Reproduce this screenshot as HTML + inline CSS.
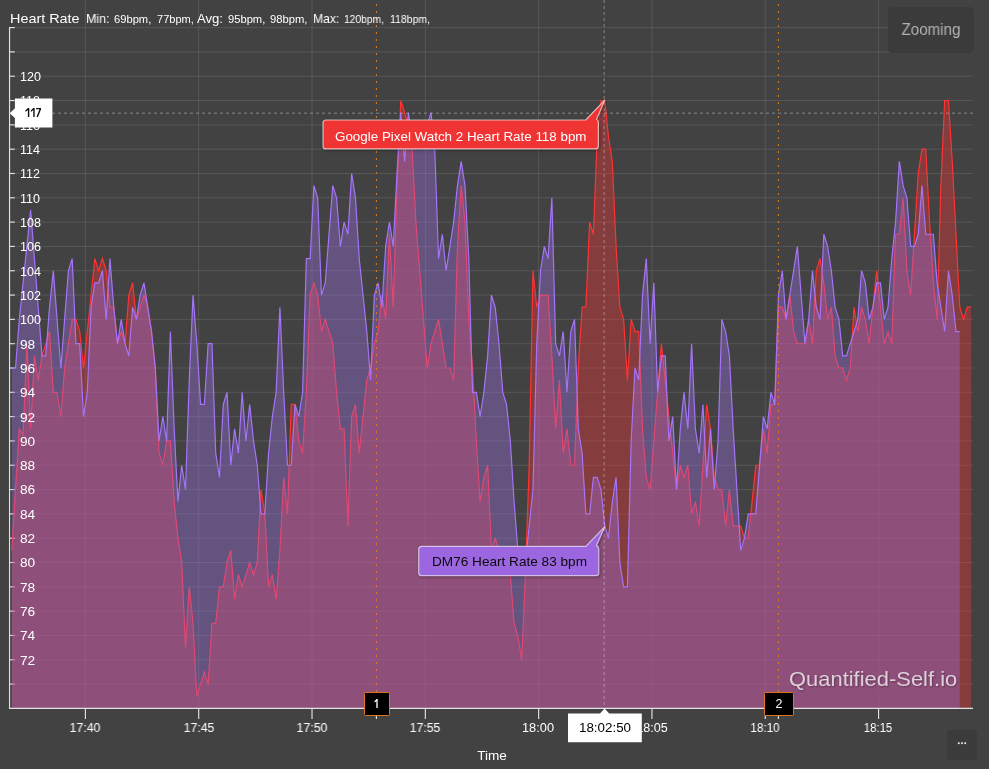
<!DOCTYPE html>
<html><head><meta charset="utf-8"><title>Heart Rate</title>
<style>
html,body{margin:0;padding:0;}
body{width:989px;height:769px;background:#424242;overflow:hidden;position:relative;font-family:"Liberation Sans",sans-serif;color:#fff;}
.tx{position:absolute;height:20px;line-height:20px;white-space:nowrap;will-change:transform;}
.btn{position:absolute;background:rgba(0,0,0,0.10);border-radius:5px;}
.mk{position:absolute;box-sizing:border-box;top:692.1px;height:23.6px;background:#000;border:1.3px solid #de741c;border-radius:1.2px;}
</style></head><body>
<svg width="989" height="769" viewBox="0 0 989 769" style="position:absolute;left:0;top:0"><defs><clipPath id="pc"><rect x="10.0" y="26.6" width="963.0" height="681.8"/></clipPath></defs><line x1="10.0" x2="973.0" y1="684.09" y2="684.09" stroke="#ffffff" stroke-opacity="0.11" stroke-width="1"/><line x1="10.0" x2="973.0" y1="659.77" y2="659.77" stroke="#ffffff" stroke-opacity="0.11" stroke-width="1"/><line x1="10.0" x2="973.0" y1="635.46" y2="635.46" stroke="#ffffff" stroke-opacity="0.11" stroke-width="1"/><line x1="10.0" x2="973.0" y1="611.14" y2="611.14" stroke="#ffffff" stroke-opacity="0.11" stroke-width="1"/><line x1="10.0" x2="973.0" y1="586.83" y2="586.83" stroke="#ffffff" stroke-opacity="0.11" stroke-width="1"/><line x1="10.0" x2="973.0" y1="562.51" y2="562.51" stroke="#ffffff" stroke-opacity="0.11" stroke-width="1"/><line x1="10.0" x2="973.0" y1="538.20" y2="538.20" stroke="#ffffff" stroke-opacity="0.11" stroke-width="1"/><line x1="10.0" x2="973.0" y1="513.89" y2="513.89" stroke="#ffffff" stroke-opacity="0.11" stroke-width="1"/><line x1="10.0" x2="973.0" y1="489.57" y2="489.57" stroke="#ffffff" stroke-opacity="0.11" stroke-width="1"/><line x1="10.0" x2="973.0" y1="465.26" y2="465.26" stroke="#ffffff" stroke-opacity="0.11" stroke-width="1"/><line x1="10.0" x2="973.0" y1="440.94" y2="440.94" stroke="#ffffff" stroke-opacity="0.11" stroke-width="1"/><line x1="10.0" x2="973.0" y1="416.63" y2="416.63" stroke="#ffffff" stroke-opacity="0.11" stroke-width="1"/><line x1="10.0" x2="973.0" y1="392.31" y2="392.31" stroke="#ffffff" stroke-opacity="0.11" stroke-width="1"/><line x1="10.0" x2="973.0" y1="368.00" y2="368.00" stroke="#ffffff" stroke-opacity="0.11" stroke-width="1"/><line x1="10.0" x2="973.0" y1="343.69" y2="343.69" stroke="#ffffff" stroke-opacity="0.11" stroke-width="1"/><line x1="10.0" x2="973.0" y1="319.37" y2="319.37" stroke="#ffffff" stroke-opacity="0.11" stroke-width="1"/><line x1="10.0" x2="973.0" y1="295.06" y2="295.06" stroke="#ffffff" stroke-opacity="0.11" stroke-width="1"/><line x1="10.0" x2="973.0" y1="270.74" y2="270.74" stroke="#ffffff" stroke-opacity="0.11" stroke-width="1"/><line x1="10.0" x2="973.0" y1="246.43" y2="246.43" stroke="#ffffff" stroke-opacity="0.11" stroke-width="1"/><line x1="10.0" x2="973.0" y1="222.11" y2="222.11" stroke="#ffffff" stroke-opacity="0.11" stroke-width="1"/><line x1="10.0" x2="973.0" y1="197.80" y2="197.80" stroke="#ffffff" stroke-opacity="0.11" stroke-width="1"/><line x1="10.0" x2="973.0" y1="173.49" y2="173.49" stroke="#ffffff" stroke-opacity="0.11" stroke-width="1"/><line x1="10.0" x2="973.0" y1="149.17" y2="149.17" stroke="#ffffff" stroke-opacity="0.11" stroke-width="1"/><line x1="10.0" x2="973.0" y1="124.86" y2="124.86" stroke="#ffffff" stroke-opacity="0.11" stroke-width="1"/><line x1="10.0" x2="973.0" y1="100.54" y2="100.54" stroke="#ffffff" stroke-opacity="0.11" stroke-width="1"/><line x1="10.0" x2="973.0" y1="76.23" y2="76.23" stroke="#ffffff" stroke-opacity="0.11" stroke-width="1"/><line x1="10.0" x2="973.0" y1="51.91" y2="51.91" stroke="#ffffff" stroke-opacity="0.11" stroke-width="1"/><line x1="10.0" x2="973.0" y1="27.60" y2="27.60" stroke="#ffffff" stroke-opacity="0.11" stroke-width="1"/><line x1="85.40" x2="85.40" y1="0" y2="708.4" stroke="#ffffff" stroke-opacity="0.11" stroke-width="1"/><line x1="198.71" x2="198.71" y1="0" y2="708.4" stroke="#ffffff" stroke-opacity="0.11" stroke-width="1"/><line x1="312.02" x2="312.02" y1="0" y2="708.4" stroke="#ffffff" stroke-opacity="0.11" stroke-width="1"/><line x1="425.33" x2="425.33" y1="0" y2="708.4" stroke="#ffffff" stroke-opacity="0.11" stroke-width="1"/><line x1="538.64" x2="538.64" y1="0" y2="708.4" stroke="#ffffff" stroke-opacity="0.11" stroke-width="1"/><line x1="651.95" x2="651.95" y1="0" y2="708.4" stroke="#ffffff" stroke-opacity="0.11" stroke-width="1"/><line x1="765.26" x2="765.26" y1="0" y2="708.4" stroke="#ffffff" stroke-opacity="0.11" stroke-width="1"/><line x1="878.57" x2="878.57" y1="0" y2="708.4" stroke="#ffffff" stroke-opacity="0.11" stroke-width="1"/><line x1="9.6" x2="14.8" y1="684.09" y2="684.09" stroke="#e2e2e2" stroke-width="1.15"/><line x1="9.6" x2="14.8" y1="659.77" y2="659.77" stroke="#e2e2e2" stroke-width="1.15"/><line x1="9.6" x2="14.8" y1="635.46" y2="635.46" stroke="#e2e2e2" stroke-width="1.15"/><line x1="9.6" x2="14.8" y1="611.14" y2="611.14" stroke="#e2e2e2" stroke-width="1.15"/><line x1="9.6" x2="14.8" y1="586.83" y2="586.83" stroke="#e2e2e2" stroke-width="1.15"/><line x1="9.6" x2="14.8" y1="562.51" y2="562.51" stroke="#e2e2e2" stroke-width="1.15"/><line x1="9.6" x2="14.8" y1="538.20" y2="538.20" stroke="#e2e2e2" stroke-width="1.15"/><line x1="9.6" x2="14.8" y1="513.89" y2="513.89" stroke="#e2e2e2" stroke-width="1.15"/><line x1="9.6" x2="14.8" y1="489.57" y2="489.57" stroke="#e2e2e2" stroke-width="1.15"/><line x1="9.6" x2="14.8" y1="465.26" y2="465.26" stroke="#e2e2e2" stroke-width="1.15"/><line x1="9.6" x2="14.8" y1="440.94" y2="440.94" stroke="#e2e2e2" stroke-width="1.15"/><line x1="9.6" x2="14.8" y1="416.63" y2="416.63" stroke="#e2e2e2" stroke-width="1.15"/><line x1="9.6" x2="14.8" y1="392.31" y2="392.31" stroke="#e2e2e2" stroke-width="1.15"/><line x1="9.6" x2="14.8" y1="368.00" y2="368.00" stroke="#e2e2e2" stroke-width="1.15"/><line x1="9.6" x2="14.8" y1="343.69" y2="343.69" stroke="#e2e2e2" stroke-width="1.15"/><line x1="9.6" x2="14.8" y1="319.37" y2="319.37" stroke="#e2e2e2" stroke-width="1.15"/><line x1="9.6" x2="14.8" y1="295.06" y2="295.06" stroke="#e2e2e2" stroke-width="1.15"/><line x1="9.6" x2="14.8" y1="270.74" y2="270.74" stroke="#e2e2e2" stroke-width="1.15"/><line x1="9.6" x2="14.8" y1="246.43" y2="246.43" stroke="#e2e2e2" stroke-width="1.15"/><line x1="9.6" x2="14.8" y1="222.11" y2="222.11" stroke="#e2e2e2" stroke-width="1.15"/><line x1="9.6" x2="14.8" y1="197.80" y2="197.80" stroke="#e2e2e2" stroke-width="1.15"/><line x1="9.6" x2="14.8" y1="173.49" y2="173.49" stroke="#e2e2e2" stroke-width="1.15"/><line x1="9.6" x2="14.8" y1="149.17" y2="149.17" stroke="#e2e2e2" stroke-width="1.15"/><line x1="9.6" x2="14.8" y1="124.86" y2="124.86" stroke="#e2e2e2" stroke-width="1.15"/><line x1="9.6" x2="14.8" y1="100.54" y2="100.54" stroke="#e2e2e2" stroke-width="1.15"/><line x1="9.6" x2="14.8" y1="76.23" y2="76.23" stroke="#e2e2e2" stroke-width="1.15"/><line x1="9.6" x2="14.8" y1="51.91" y2="51.91" stroke="#e2e2e2" stroke-width="1.15"/><line x1="9.6" x2="14.8" y1="27.60" y2="27.60" stroke="#e2e2e2" stroke-width="1.15"/><g clip-path="url(#pc)"><path d="M11.75,550.36 L15.53,489.57 L19.30,428.79 L23.08,434.86 L26.86,343.69 L30.63,428.79 L34.41,355.84 L38.19,380.16 L41.96,355.84 L45.74,343.69 L49.52,331.53 L53.30,392.31 L57.07,392.31 L60.85,416.63 L64.63,368.00 L68.40,343.69 L72.18,319.37 L75.96,319.37 L79.73,331.53 L83.51,368.00 L87.29,331.53 L91.07,295.06 L94.84,258.59 L98.62,270.74 L102.40,258.59 L106.17,270.74 L109.95,307.21 L113.73,307.21 L117.50,343.69 L121.28,331.53 L125.06,343.69 L128.84,295.06 L132.61,282.90 L136.39,319.37 L140.17,307.21 L143.94,295.06 L147.72,307.21 L151.50,331.53 L155.27,368.00 L159.05,453.10 L162.83,465.26 L166.61,440.94 L170.38,440.94 L174.16,501.73 L177.94,538.20 L181.71,562.51 L185.49,647.61 L189.27,586.83 L193.04,623.30 L196.82,696.24 L200.60,684.09 L204.38,671.93 L208.15,684.09 L211.93,623.30 L215.71,623.30 L219.48,586.83 L223.26,586.83 L227.04,562.51 L230.81,550.36 L234.59,598.99 L238.37,574.67 L242.15,586.83 L245.92,574.67 L249.70,562.51 L253.48,574.67 L257.25,562.51 L261.03,489.57 L264.81,513.89 L268.58,586.83 L272.36,574.67 L276.14,598.99 L279.92,550.36 L283.69,477.41 L287.47,513.89 L291.25,404.47 L295.02,404.47 L298.80,440.94 L302.58,453.10 L306.35,392.31 L310.13,295.06 L313.91,282.90 L317.69,295.06 L321.46,331.53 L325.24,319.37 L329.02,331.53 L332.79,343.69 L336.57,392.31 L340.35,428.79 L344.12,428.79 L347.90,526.04 L351.68,416.63 L355.46,404.47 L359.23,453.10 L363.01,416.63 L366.79,380.16 L370.56,368.00 L374.34,343.69 L378.12,331.53 L381.89,295.06 L385.67,319.37 L389.45,234.27 L393.23,307.21 L397.00,185.64 L400.78,100.54 L404.56,112.70 L408.33,124.86 L412.11,149.17 L415.89,222.11 L419.66,270.74 L423.44,319.37 L427.22,368.00 L431.00,343.69 L434.77,331.53 L438.55,319.37 L442.33,343.69 L446.10,368.00 L449.88,368.00 L453.66,380.16 L457.43,246.43 L461.21,185.64 L464.99,222.11 L468.77,319.37 L472.54,368.00 L476.32,440.94 L480.10,501.73 L483.87,477.41 L487.65,465.26 L491.43,550.36 L495.20,538.20 L498.98,550.36 L502.76,562.51 L506.54,562.51 L510.31,574.67 L514.09,623.30 L517.87,635.46 L521.64,659.77 L525.42,574.67 L529.20,465.26 L532.97,270.74 L536.75,307.21 L540.53,295.06 L544.31,295.06 L548.08,295.06 L551.86,355.84 L555.64,428.79 L559.41,380.16 L563.19,453.10 L566.97,428.79 L570.74,465.26 L574.52,465.26 L578.30,368.00 L582.08,307.21 L585.85,307.21 L589.63,222.11 L593.41,234.27 L597.18,137.01 L600.96,100.54 L604.74,100.54 L608.51,137.01 L612.29,161.33 L616.07,246.43 L619.85,307.21 L623.62,319.37 L627.40,380.16 L631.18,319.37 L634.95,331.53 L638.73,331.53 L642.51,428.79 L646.28,477.41 L650.06,489.57 L653.84,440.94 L657.62,392.31 L661.39,343.69 L665.17,380.16 L668.95,416.63 L672.72,453.10 L676.50,489.57 L680.28,465.26 L684.05,477.41 L687.83,465.26 L691.61,513.89 L695.39,501.73 L699.16,526.04 L702.94,465.26 L706.72,404.47 L710.49,428.79 L714.27,477.41 L718.05,489.57 L721.82,489.57 L725.60,526.04 L729.38,489.57 L733.16,526.04 L736.93,526.04 L740.71,526.04 L744.49,538.20 L748.26,538.20 L752.04,501.73 L755.82,465.26 L759.59,465.26 L763.37,428.79 L767.15,453.10 L770.93,404.47 L774.70,404.47 L778.48,307.21 L782.26,307.21 L786.03,319.37 L789.81,295.06 L793.59,331.53 L797.36,343.69 L801.14,343.69 L804.92,343.69 L808.70,319.37 L812.47,343.69 L816.25,270.74 L820.03,258.59 L823.80,282.90 L827.58,319.37 L831.36,307.21 L835.13,355.84 L838.91,368.00 L842.69,368.00 L846.47,380.16 L850.24,368.00 L854.02,307.21 L857.80,331.53 L861.57,307.21 L865.35,319.37 L869.13,343.69 L872.90,307.21 L876.68,270.74 L880.46,307.21 L884.24,343.69 L888.01,331.53 L891.79,343.69 L895.57,234.27 L899.34,234.27 L903.12,197.80 L906.90,270.74 L910.67,295.06 L914.45,234.27 L918.23,173.49 L922.01,149.17 L925.78,149.17 L929.56,222.11 L933.34,282.90 L937.11,319.37 L940.89,185.64 L944.67,100.54 L948.44,100.54 L952.22,161.33 L956.00,234.27 L959.78,307.21 L963.55,319.37 L967.33,307.21 L971.11,307.21 L971.11,708.4 L11.75,708.4 Z" fill="#ff3131" fill-opacity="0.35" stroke="none"/><path d="M11.75,550.36 L15.53,489.57 L19.30,428.79 L23.08,434.86 L26.86,343.69 L30.63,428.79 L34.41,355.84 L38.19,380.16 L41.96,355.84 L45.74,343.69 L49.52,331.53 L53.30,392.31 L57.07,392.31 L60.85,416.63 L64.63,368.00 L68.40,343.69 L72.18,319.37 L75.96,319.37 L79.73,331.53 L83.51,368.00 L87.29,331.53 L91.07,295.06 L94.84,258.59 L98.62,270.74 L102.40,258.59 L106.17,270.74 L109.95,307.21 L113.73,307.21 L117.50,343.69 L121.28,331.53 L125.06,343.69 L128.84,295.06 L132.61,282.90 L136.39,319.37 L140.17,307.21 L143.94,295.06 L147.72,307.21 L151.50,331.53 L155.27,368.00 L159.05,453.10 L162.83,465.26 L166.61,440.94 L170.38,440.94 L174.16,501.73 L177.94,538.20 L181.71,562.51 L185.49,647.61 L189.27,586.83 L193.04,623.30 L196.82,696.24 L200.60,684.09 L204.38,671.93 L208.15,684.09 L211.93,623.30 L215.71,623.30 L219.48,586.83 L223.26,586.83 L227.04,562.51 L230.81,550.36 L234.59,598.99 L238.37,574.67 L242.15,586.83 L245.92,574.67 L249.70,562.51 L253.48,574.67 L257.25,562.51 L261.03,489.57 L264.81,513.89 L268.58,586.83 L272.36,574.67 L276.14,598.99 L279.92,550.36 L283.69,477.41 L287.47,513.89 L291.25,404.47 L295.02,404.47 L298.80,440.94 L302.58,453.10 L306.35,392.31 L310.13,295.06 L313.91,282.90 L317.69,295.06 L321.46,331.53 L325.24,319.37 L329.02,331.53 L332.79,343.69 L336.57,392.31 L340.35,428.79 L344.12,428.79 L347.90,526.04 L351.68,416.63 L355.46,404.47 L359.23,453.10 L363.01,416.63 L366.79,380.16 L370.56,368.00 L374.34,343.69 L378.12,331.53 L381.89,295.06 L385.67,319.37 L389.45,234.27 L393.23,307.21 L397.00,185.64 L400.78,100.54 L404.56,112.70 L408.33,124.86 L412.11,149.17 L415.89,222.11 L419.66,270.74 L423.44,319.37 L427.22,368.00 L431.00,343.69 L434.77,331.53 L438.55,319.37 L442.33,343.69 L446.10,368.00 L449.88,368.00 L453.66,380.16 L457.43,246.43 L461.21,185.64 L464.99,222.11 L468.77,319.37 L472.54,368.00 L476.32,440.94 L480.10,501.73 L483.87,477.41 L487.65,465.26 L491.43,550.36 L495.20,538.20 L498.98,550.36 L502.76,562.51 L506.54,562.51 L510.31,574.67 L514.09,623.30 L517.87,635.46 L521.64,659.77 L525.42,574.67 L529.20,465.26 L532.97,270.74 L536.75,307.21 L540.53,295.06 L544.31,295.06 L548.08,295.06 L551.86,355.84 L555.64,428.79 L559.41,380.16 L563.19,453.10 L566.97,428.79 L570.74,465.26 L574.52,465.26 L578.30,368.00 L582.08,307.21 L585.85,307.21 L589.63,222.11 L593.41,234.27 L597.18,137.01 L600.96,100.54 L604.74,100.54 L608.51,137.01 L612.29,161.33 L616.07,246.43 L619.85,307.21 L623.62,319.37 L627.40,380.16 L631.18,319.37 L634.95,331.53 L638.73,331.53 L642.51,428.79 L646.28,477.41 L650.06,489.57 L653.84,440.94 L657.62,392.31 L661.39,343.69 L665.17,380.16 L668.95,416.63 L672.72,453.10 L676.50,489.57 L680.28,465.26 L684.05,477.41 L687.83,465.26 L691.61,513.89 L695.39,501.73 L699.16,526.04 L702.94,465.26 L706.72,404.47 L710.49,428.79 L714.27,477.41 L718.05,489.57 L721.82,489.57 L725.60,526.04 L729.38,489.57 L733.16,526.04 L736.93,526.04 L740.71,526.04 L744.49,538.20 L748.26,538.20 L752.04,501.73 L755.82,465.26 L759.59,465.26 L763.37,428.79 L767.15,453.10 L770.93,404.47 L774.70,404.47 L778.48,307.21 L782.26,307.21 L786.03,319.37 L789.81,295.06 L793.59,331.53 L797.36,343.69 L801.14,343.69 L804.92,343.69 L808.70,319.37 L812.47,343.69 L816.25,270.74 L820.03,258.59 L823.80,282.90 L827.58,319.37 L831.36,307.21 L835.13,355.84 L838.91,368.00 L842.69,368.00 L846.47,380.16 L850.24,368.00 L854.02,307.21 L857.80,331.53 L861.57,307.21 L865.35,319.37 L869.13,343.69 L872.90,307.21 L876.68,270.74 L880.46,307.21 L884.24,343.69 L888.01,331.53 L891.79,343.69 L895.57,234.27 L899.34,234.27 L903.12,197.80 L906.90,270.74 L910.67,295.06 L914.45,234.27 L918.23,173.49 L922.01,149.17 L925.78,149.17 L929.56,222.11 L933.34,282.90 L937.11,319.37 L940.89,185.64 L944.67,100.54 L948.44,100.54 L952.22,161.33 L956.00,234.27 L959.78,307.21 L963.55,319.37 L967.33,307.21 L971.11,307.21" fill="none" stroke="#ff3333" stroke-width="1.2" stroke-linejoin="miter"/><path d="M11.75,368.00 L15.53,368.00 L19.30,319.37 L23.08,282.90 L26.86,246.43 L30.63,209.96 L34.41,258.59 L38.19,307.21 L41.96,355.84 L45.74,355.84 L49.52,307.21 L53.30,270.74 L57.07,319.37 L60.85,368.00 L64.63,319.37 L68.40,270.74 L72.18,258.59 L75.96,343.69 L79.73,343.69 L83.51,416.63 L87.29,392.31 L91.07,307.21 L94.84,282.90 L98.62,282.90 L102.40,270.74 L106.17,319.37 L109.95,258.59 L113.73,307.21 L117.50,343.69 L121.28,319.37 L125.06,343.69 L128.84,355.84 L132.61,307.21 L136.39,319.37 L140.17,295.06 L143.94,282.90 L147.72,307.21 L151.50,331.53 L155.27,368.00 L159.05,440.94 L162.83,416.63 L166.61,440.94 L170.38,331.53 L174.16,428.79 L177.94,501.73 L181.71,465.26 L185.49,489.57 L189.27,380.16 L193.04,295.06 L196.82,343.69 L200.60,404.47 L204.38,404.47 L208.15,343.69 L211.93,343.69 L215.71,453.10 L219.48,477.41 L223.26,404.47 L227.04,392.31 L230.81,465.26 L234.59,428.79 L238.37,453.10 L242.15,392.31 L245.92,440.94 L249.70,404.47 L253.48,440.94 L257.25,465.26 L261.03,513.89 L264.81,513.89 L268.58,453.10 L272.36,416.63 L276.14,392.31 L279.92,307.21 L283.69,392.31 L287.47,465.26 L291.25,465.26 L295.02,404.47 L298.80,416.63 L302.58,392.31 L306.35,258.59 L310.13,258.59 L313.91,185.64 L317.69,197.80 L321.46,295.06 L325.24,282.90 L329.02,234.27 L332.79,185.64 L336.57,197.80 L340.35,246.43 L344.12,222.11 L347.90,234.27 L351.68,173.49 L355.46,197.80 L359.23,258.59 L363.01,295.06 L366.79,331.53 L370.56,380.16 L374.34,295.06 L378.12,282.90 L381.89,307.21 L385.67,246.43 L389.45,222.11 L393.23,246.43 L397.00,173.49 L400.78,112.70 L404.56,161.33 L408.33,112.70 L412.11,137.01 L415.89,137.01 L419.66,137.01 L423.44,137.01 L427.22,124.86 L431.00,112.70 L434.77,149.17 L438.55,258.59 L442.33,234.27 L446.10,270.74 L449.88,246.43 L453.66,222.11 L457.43,185.64 L461.21,161.33 L464.99,185.64 L468.77,258.59 L472.54,392.31 L476.32,392.31 L480.10,416.63 L483.87,392.31 L487.65,355.84 L491.43,295.06 L495.20,307.21 L498.98,343.69 L502.76,392.31 L506.54,404.47 L510.31,440.94 L514.09,501.73 L517.87,550.36 L521.64,562.51 L525.42,562.51 L529.20,526.04 L532.97,489.57 L536.75,343.69 L540.53,270.74 L544.31,246.43 L548.08,258.59 L551.86,197.80 L555.64,343.69 L559.41,355.84 L563.19,331.53 L566.97,392.31 L570.74,331.53 L574.52,319.37 L578.30,428.79 L582.08,453.10 L585.85,513.89 L589.63,513.89 L593.41,477.41 L597.18,477.41 L600.96,489.57 L604.74,526.04 L608.51,538.20 L612.29,501.73 L616.07,477.41 L619.85,562.51 L623.62,586.83 L627.40,586.83 L631.18,440.94 L634.95,368.00 L638.73,380.16 L642.51,295.06 L646.28,258.59 L650.06,343.69 L653.84,282.90 L657.62,392.31 L661.39,355.84 L665.17,355.84 L668.95,440.94 L672.72,416.63 L676.50,489.57 L680.28,428.79 L684.05,392.31 L687.83,428.79 L691.61,343.69 L695.39,428.79 L699.16,453.10 L702.94,404.47 L706.72,477.41 L710.49,428.79 L714.27,489.57 L718.05,440.94 L721.82,319.37 L725.60,331.53 L729.38,355.84 L733.16,428.79 L736.93,489.57 L740.71,550.36 L744.49,538.20 L748.26,513.89 L752.04,513.89 L755.82,513.89 L759.59,465.26 L763.37,416.63 L767.15,428.79 L770.93,392.31 L774.70,404.47 L778.48,295.06 L782.26,270.74 L786.03,319.37 L789.81,295.06 L793.59,270.74 L797.36,246.43 L801.14,295.06 L804.92,343.69 L808.70,319.37 L812.47,270.74 L816.25,307.21 L820.03,319.37 L823.80,234.27 L827.58,246.43 L831.36,270.74 L835.13,307.21 L838.91,319.37 L842.69,355.84 L846.47,355.84 L850.24,343.69 L854.02,331.53 L857.80,319.37 L861.57,270.74 L865.35,282.90 L869.13,319.37 L872.90,307.21 L876.68,282.90 L880.46,282.90 L884.24,319.37 L888.01,307.21 L891.79,258.59 L895.57,222.11 L899.34,161.33 L903.12,185.64 L906.90,197.80 L910.67,246.43 L914.45,246.43 L918.23,234.27 L922.01,185.64 L925.78,234.27 L929.56,234.27 L933.34,234.27 L937.11,282.90 L940.89,307.21 L944.67,331.53 L948.44,270.74 L952.22,295.06 L956.00,331.53 L959.78,331.53 L959.78,708.4 L11.75,708.4 Z" fill="#a073ed" fill-opacity="0.35" stroke="none"/><path d="M11.75,368.00 L15.53,368.00 L19.30,319.37 L23.08,282.90 L26.86,246.43 L30.63,209.96 L34.41,258.59 L38.19,307.21 L41.96,355.84 L45.74,355.84 L49.52,307.21 L53.30,270.74 L57.07,319.37 L60.85,368.00 L64.63,319.37 L68.40,270.74 L72.18,258.59 L75.96,343.69 L79.73,343.69 L83.51,416.63 L87.29,392.31 L91.07,307.21 L94.84,282.90 L98.62,282.90 L102.40,270.74 L106.17,319.37 L109.95,258.59 L113.73,307.21 L117.50,343.69 L121.28,319.37 L125.06,343.69 L128.84,355.84 L132.61,307.21 L136.39,319.37 L140.17,295.06 L143.94,282.90 L147.72,307.21 L151.50,331.53 L155.27,368.00 L159.05,440.94 L162.83,416.63 L166.61,440.94 L170.38,331.53 L174.16,428.79 L177.94,501.73 L181.71,465.26 L185.49,489.57 L189.27,380.16 L193.04,295.06 L196.82,343.69 L200.60,404.47 L204.38,404.47 L208.15,343.69 L211.93,343.69 L215.71,453.10 L219.48,477.41 L223.26,404.47 L227.04,392.31 L230.81,465.26 L234.59,428.79 L238.37,453.10 L242.15,392.31 L245.92,440.94 L249.70,404.47 L253.48,440.94 L257.25,465.26 L261.03,513.89 L264.81,513.89 L268.58,453.10 L272.36,416.63 L276.14,392.31 L279.92,307.21 L283.69,392.31 L287.47,465.26 L291.25,465.26 L295.02,404.47 L298.80,416.63 L302.58,392.31 L306.35,258.59 L310.13,258.59 L313.91,185.64 L317.69,197.80 L321.46,295.06 L325.24,282.90 L329.02,234.27 L332.79,185.64 L336.57,197.80 L340.35,246.43 L344.12,222.11 L347.90,234.27 L351.68,173.49 L355.46,197.80 L359.23,258.59 L363.01,295.06 L366.79,331.53 L370.56,380.16 L374.34,295.06 L378.12,282.90 L381.89,307.21 L385.67,246.43 L389.45,222.11 L393.23,246.43 L397.00,173.49 L400.78,112.70 L404.56,161.33 L408.33,112.70 L412.11,137.01 L415.89,137.01 L419.66,137.01 L423.44,137.01 L427.22,124.86 L431.00,112.70 L434.77,149.17 L438.55,258.59 L442.33,234.27 L446.10,270.74 L449.88,246.43 L453.66,222.11 L457.43,185.64 L461.21,161.33 L464.99,185.64 L468.77,258.59 L472.54,392.31 L476.32,392.31 L480.10,416.63 L483.87,392.31 L487.65,355.84 L491.43,295.06 L495.20,307.21 L498.98,343.69 L502.76,392.31 L506.54,404.47 L510.31,440.94 L514.09,501.73 L517.87,550.36 L521.64,562.51 L525.42,562.51 L529.20,526.04 L532.97,489.57 L536.75,343.69 L540.53,270.74 L544.31,246.43 L548.08,258.59 L551.86,197.80 L555.64,343.69 L559.41,355.84 L563.19,331.53 L566.97,392.31 L570.74,331.53 L574.52,319.37 L578.30,428.79 L582.08,453.10 L585.85,513.89 L589.63,513.89 L593.41,477.41 L597.18,477.41 L600.96,489.57 L604.74,526.04 L608.51,538.20 L612.29,501.73 L616.07,477.41 L619.85,562.51 L623.62,586.83 L627.40,586.83 L631.18,440.94 L634.95,368.00 L638.73,380.16 L642.51,295.06 L646.28,258.59 L650.06,343.69 L653.84,282.90 L657.62,392.31 L661.39,355.84 L665.17,355.84 L668.95,440.94 L672.72,416.63 L676.50,489.57 L680.28,428.79 L684.05,392.31 L687.83,428.79 L691.61,343.69 L695.39,428.79 L699.16,453.10 L702.94,404.47 L706.72,477.41 L710.49,428.79 L714.27,489.57 L718.05,440.94 L721.82,319.37 L725.60,331.53 L729.38,355.84 L733.16,428.79 L736.93,489.57 L740.71,550.36 L744.49,538.20 L748.26,513.89 L752.04,513.89 L755.82,513.89 L759.59,465.26 L763.37,416.63 L767.15,428.79 L770.93,392.31 L774.70,404.47 L778.48,295.06 L782.26,270.74 L786.03,319.37 L789.81,295.06 L793.59,270.74 L797.36,246.43 L801.14,295.06 L804.92,343.69 L808.70,319.37 L812.47,270.74 L816.25,307.21 L820.03,319.37 L823.80,234.27 L827.58,246.43 L831.36,270.74 L835.13,307.21 L838.91,319.37 L842.69,355.84 L846.47,355.84 L850.24,343.69 L854.02,331.53 L857.80,319.37 L861.57,270.74 L865.35,282.90 L869.13,319.37 L872.90,307.21 L876.68,282.90 L880.46,282.90 L884.24,319.37 L888.01,307.21 L891.79,258.59 L895.57,222.11 L899.34,161.33 L903.12,185.64 L906.90,197.80 L910.67,246.43 L914.45,246.43 L918.23,234.27 L922.01,185.64 L925.78,234.27 L929.56,234.27 L933.34,234.27 L937.11,282.90 L940.89,307.21 L944.67,331.53 L948.44,270.74 L952.22,295.06 L956.00,331.53 L959.78,331.53" fill="none" stroke="#a574f8" stroke-width="1.2" stroke-linejoin="miter"/></g><line x1="9.55" x2="9.55" y1="27.1" y2="709.0" stroke="#e2e2e2" stroke-width="1.15"/><line x1="9.0" x2="973.0" y1="708.4" y2="708.4" stroke="#e2e2e2" stroke-width="1.15"/><line x1="85.40" x2="85.40" y1="708.4" y2="718.9" stroke="#e2e2e2" stroke-width="1.15"/><line x1="198.71" x2="198.71" y1="708.4" y2="718.9" stroke="#e2e2e2" stroke-width="1.15"/><line x1="312.02" x2="312.02" y1="708.4" y2="718.9" stroke="#e2e2e2" stroke-width="1.15"/><line x1="425.33" x2="425.33" y1="708.4" y2="718.9" stroke="#e2e2e2" stroke-width="1.15"/><line x1="538.64" x2="538.64" y1="708.4" y2="718.9" stroke="#e2e2e2" stroke-width="1.15"/><line x1="651.95" x2="651.95" y1="708.4" y2="718.9" stroke="#e2e2e2" stroke-width="1.15"/><line x1="765.26" x2="765.26" y1="708.4" y2="718.9" stroke="#e2e2e2" stroke-width="1.15"/><line x1="878.57" x2="878.57" y1="708.4" y2="718.9" stroke="#e2e2e2" stroke-width="1.15"/><line x1="376.4" x2="376.4" y1="708.4" y2="718.9" stroke="#e2e2e2" stroke-width="1.15"/><line x1="778.4" x2="778.4" y1="708.4" y2="718.9" stroke="#e2e2e2" stroke-width="1.15"/><line x1="376.4" x2="376.4" y1="4" y2="708.4" stroke="#e27c1a" stroke-width="1.05" stroke-dasharray="2 5"/><line x1="778.4" x2="778.4" y1="4" y2="708.4" stroke="#e27c1a" stroke-width="1.05" stroke-dasharray="2 5"/><line x1="16.0" x2="973.0" y1="113.2" y2="113.2" stroke="#ffffff" stroke-opacity="0.24" stroke-width="1.5" stroke-dasharray="3 3"/><line x1="604.2" x2="604.2" y1="0" y2="708.4" stroke="#ffffff" stroke-opacity="0.24" stroke-width="1.5" stroke-dasharray="3 3"/></svg>
<div id="t0" class="tx" style="transform:scaleX(1.1070);transform-origin:0 50%;left:10.00px;top:8.50px;font-size:13px;color:#fff;">Heart Rate</div><div id="t1" class="tx" style="transform:scaleX(0.9567);transform-origin:0 50%;left:85.50px;top:8.50px;font-size:13px;color:#fff;">Min:</div><div id="t2" class="tx" style="transform:scaleX(1.0163);transform-origin:0 50%;left:113.70px;top:9.20px;font-size:11px;color:#fff;">69bpm,</div><div id="t3" class="tx" style="transform:scaleX(1.0054);transform-origin:0 50%;left:156.50px;top:9.20px;font-size:11px;color:#fff;">77bpm,</div><div id="t4" class="tx" style="transform:scaleX(1.0085);transform-origin:0 50%;left:197.00px;top:8.50px;font-size:13px;color:#fff;">Avg:</div><div id="t5" class="tx" style="transform:scaleX(1.0163);transform-origin:0 50%;left:227.50px;top:9.20px;font-size:11px;color:#fff;">95bpm,</div><div id="t6" class="tx" style="transform:scaleX(1.0217);transform-origin:0 50%;left:270.00px;top:9.20px;font-size:11px;color:#fff;">98bpm,</div><div id="t7" class="tx" style="transform:scaleX(0.9371);transform-origin:0 50%;left:313.00px;top:8.50px;font-size:13px;color:#fff;">Max:</div><div id="t8" class="tx" style="transform:scaleX(0.9343);transform-origin:0 50%;left:344.40px;top:9.20px;font-size:11px;color:#fff;">120bpm,</div><div id="t9" class="tx" style="transform:scaleX(0.9524);transform-origin:0 50%;left:390.00px;top:9.20px;font-size:11px;color:#fff;">118bpm,</div><div id="y72" class="tx" style="transform:scaleX(1.0930);transform-origin:0 50%;left:20.00px;top:650.67px;font-size:12.5px;color:#fff;">72</div><div id="y74" class="tx" style="transform:scaleX(1.0930);transform-origin:0 50%;left:20.00px;top:626.36px;font-size:12.5px;color:#fff;">74</div><div id="y76" class="tx" style="transform:scaleX(1.0930);transform-origin:0 50%;left:20.00px;top:602.04px;font-size:12.5px;color:#fff;">76</div><div id="y78" class="tx" style="transform:scaleX(1.0930);transform-origin:0 50%;left:20.00px;top:577.73px;font-size:12.5px;color:#fff;">78</div><div id="y80" class="tx" style="transform:scaleX(1.0930);transform-origin:0 50%;left:20.00px;top:553.41px;font-size:12.5px;color:#fff;">80</div><div id="y82" class="tx" style="transform:scaleX(1.0930);transform-origin:0 50%;left:20.00px;top:529.10px;font-size:12.5px;color:#fff;">82</div><div id="y84" class="tx" style="transform:scaleX(1.0930);transform-origin:0 50%;left:20.00px;top:504.79px;font-size:12.5px;color:#fff;">84</div><div id="y86" class="tx" style="transform:scaleX(1.0930);transform-origin:0 50%;left:20.00px;top:480.47px;font-size:12.5px;color:#fff;">86</div><div id="y88" class="tx" style="transform:scaleX(1.0930);transform-origin:0 50%;left:20.00px;top:456.16px;font-size:12.5px;color:#fff;">88</div><div id="y90" class="tx" style="transform:scaleX(1.0930);transform-origin:0 50%;left:20.00px;top:431.84px;font-size:12.5px;color:#fff;">90</div><div id="y92" class="tx" style="transform:scaleX(1.0930);transform-origin:0 50%;left:20.00px;top:407.53px;font-size:12.5px;color:#fff;">92</div><div id="y94" class="tx" style="transform:scaleX(1.0930);transform-origin:0 50%;left:20.00px;top:383.21px;font-size:12.5px;color:#fff;">94</div><div id="y96" class="tx" style="transform:scaleX(1.0930);transform-origin:0 50%;left:20.00px;top:358.90px;font-size:12.5px;color:#fff;">96</div><div id="y98" class="tx" style="transform:scaleX(1.0930);transform-origin:0 50%;left:20.00px;top:334.59px;font-size:12.5px;color:#fff;">98</div><div id="y100" class="tx" style="transform:scaleX(1.0067);transform-origin:0 50%;left:20.00px;top:310.27px;font-size:12.5px;color:#fff;">100</div><div id="y102" class="tx" style="transform:scaleX(1.0067);transform-origin:0 50%;left:20.00px;top:285.96px;font-size:12.5px;color:#fff;">102</div><div id="y104" class="tx" style="transform:scaleX(1.0067);transform-origin:0 50%;left:20.00px;top:261.64px;font-size:12.5px;color:#fff;">104</div><div id="y106" class="tx" style="transform:scaleX(1.0067);transform-origin:0 50%;left:20.00px;top:237.33px;font-size:12.5px;color:#fff;">106</div><div id="y108" class="tx" style="transform:scaleX(1.0067);transform-origin:0 50%;left:20.00px;top:213.01px;font-size:12.5px;color:#fff;">108</div><div id="y110" class="tx" style="transform:scaleX(0.9781);transform-origin:0 50%;left:20.00px;top:188.70px;font-size:12.5px;color:#fff;">110</div><div id="y112" class="tx" style="transform:scaleX(0.9781);transform-origin:0 50%;left:20.00px;top:164.39px;font-size:12.5px;color:#fff;">112</div><div id="y114" class="tx" style="transform:scaleX(0.9781);transform-origin:0 50%;left:20.00px;top:140.07px;font-size:12.5px;color:#fff;">114</div><div id="y116" class="tx" style="transform:scaleX(0.9781);transform-origin:0 50%;left:20.00px;top:115.76px;font-size:12.5px;color:#fff;">116</div><div id="y118" class="tx" style="transform:scaleX(0.9781);transform-origin:0 50%;left:20.00px;top:91.44px;font-size:12.5px;color:#fff;">118</div><div id="y120" class="tx" style="transform:scaleX(1.0067);transform-origin:0 50%;left:20.00px;top:67.13px;font-size:12.5px;color:#fff;">120</div><div id="x0" class="tx" style="transform:translateX(-50%) scaleX(0.9910);transform-origin:50% 50%;left:85.20px;top:718.40px;font-size:12.5px;color:#fff;">17:40</div><div id="x1" class="tx" style="transform:translateX(-50%) scaleX(0.9830);transform-origin:50% 50%;left:198.51px;top:718.40px;font-size:12.5px;color:#fff;">17:45</div><div id="x2" class="tx" style="transform:translateX(-50%) scaleX(0.9910);transform-origin:50% 50%;left:311.82px;top:718.40px;font-size:12.5px;color:#fff;">17:50</div><div id="x3" class="tx" style="transform:translateX(-50%) scaleX(0.9814);transform-origin:50% 50%;left:425.13px;top:718.40px;font-size:12.5px;color:#fff;">17:55</div><div id="x4" class="tx" style="transform:translateX(-50%) scaleX(1.0230);transform-origin:50% 50%;left:538.44px;top:718.40px;font-size:12.5px;color:#fff;">18:00</div><div id="x5" class="tx" style="transform:translateX(-50%) scaleX(1.0070);transform-origin:50% 50%;left:651.75px;top:718.40px;font-size:12.5px;color:#fff;">18:05</div><div id="x6" class="tx" style="transform:translateX(-50%) scaleX(0.9351);transform-origin:50% 50%;left:765.06px;top:718.40px;font-size:12.5px;color:#fff;">18:10</div><div id="x7" class="tx" style="transform:translateX(-50%) scaleX(0.9111);transform-origin:50% 50%;left:878.37px;top:718.40px;font-size:12.5px;color:#fff;">18:15</div><div id="xt" class="tx" style="transform:translateX(-50%) scaleX(1.0868);transform-origin:50% 50%;left:491.60px;top:745.60px;font-size:12.5px;color:#fff;">Time</div>
<div class="btn" style="left:888px;top:7.2px;width:85.5px;height:45.4px;background:#3b3b3b;border-radius:4.5px;"></div>
<div id="zb" class="tx" style="transform:translateX(-50%) scaleX(0.9724);transform-origin:50% 50%;left:931.00px;top:20.10px;font-size:15.6px;color:#b2b2b2;">Zooming</div>
<div class="btn" style="left:947.2px;top:729.8px;width:29.6px;height:30.1px;background:#3b3b3b;border-radius:3.5px;"></div>
<svg width="12" height="4" style="position:absolute;left:956px;top:741px" viewBox="956 741 12 4"><rect x="957.9" y="742.3" width="1.8" height="1.8" fill="#e4e4e4"/><rect x="961.1" y="742.3" width="1.8" height="1.8" fill="#e4e4e4"/><rect x="964.3" y="742.3" width="1.8" height="1.8" fill="#e4e4e4"/></svg>
<div id="wm" class="tx" style="transform:scaleX(1.0441);transform-origin:0 50%;left:789.40px;top:669.40px;font-size:21px;color:rgba(255,255,255,0.75);text-shadow:1px 1px 2px rgba(0,0,0,0.32);">Quantified-Self.io</div>
<div class="mk" style="left:363.9px;width:26.1px;"></div>
<svg width="10" height="14" style="position:absolute;left:372px;top:697px" viewBox="372 697 10 14"><path d="M374.3,701.6 L376.5,699.0 L377.7,699.0 L377.7,708.1 L376.35,708.1 L376.35,700.9 L375.0,702.5 Z" fill="#fff"/></svg>
<div class="mk" style="left:764px;width:30px;"></div>
<div id="m2" class="tx" style="transform:translateX(-50%) scaleX(1.0000);transform-origin:50% 50%;left:778.80px;top:693.90px;font-size:12.5px;color:#fff;">2</div>
<svg width="60" height="40" style="position:absolute;left:0;top:93px" viewBox="0 93 60 40"><path d="M9.7,113.2 L14.9,108.3 L14.9,98.4 L52.4,98.4 L52.4,127.6 L14.9,127.6 L14.9,118.1 Z" fill="#fff"/><path d="M25.2,110.7 L27.9,108.05 L29.3,108.05 L29.3,116.9 L27.9,116.9 L27.9,109.9 L25.9,111.8 Z" fill="#111"/><path d="M30.55,110.7 L33.25,108.05 L34.65,108.05 L34.65,116.9 L33.25,116.9 L33.25,109.9 L31.25,111.8 Z" fill="#111"/><path d="M36.1,108.05 L41.05,108.05 L41.05,109.15 L38.0,116.9 L36.5,116.9 L39.45,109.35 L36.1,109.35 Z" fill="#111"/></svg>

<svg width="90" height="40" style="position:absolute;left:560px;top:705px" viewBox="560 705 90 40"><path d="M568,713.5 L600,713.5 L604.6,708.6 L609.2,713.5 L641.8,713.5 L641.8,742.3 L568,742.3 Z" fill="#fff"/></svg>
<div id="xtt" class="tx" style="transform:translateX(-50%) scaleX(1.0684);transform-origin:50% 50%;left:604.80px;top:718.30px;font-size:12.5px;color:#000;">18:02:50</div>
<svg width="300" height="60" style="position:absolute;left:315px;top:95px;filter:drop-shadow(1px 1px 1.5px rgba(0,0,0,0.38))" viewBox="315 95 300 60"><path d="M326,120.0 L585.7,120.0 L604.7,100.2 L596.6,119.3 Q598.4,120.2 598.4,122.6 L598.4,145.9 Q598.4,148.9 595.4,148.9 L326,148.9 Q323,148.9 323,145.9 L323,123.0 Q323,120.0 326,120.0 Z" fill="#f03434" stroke="rgba(255,255,255,0.65)" stroke-width="1.2" stroke-linejoin="round"/></svg>
<div id="tr" class="tx" style="transform:scaleX(1.0297);transform-origin:0 50%;left:335.00px;top:126.80px;font-size:13px;color:#fff;">Google Pixel Watch 2 Heart Rate 118 bpm</div>
<svg width="200" height="70" style="position:absolute;left:410px;top:520px;filter:drop-shadow(1px 1px 1.5px rgba(0,0,0,0.38))" viewBox="410 520 200 70"><path d="M421.7,546.3 L585.8,546.3 L604.8,526.7 L596.5,545.6 Q598.8,546.6 598.8,549 L598.8,572.7 Q598.8,575.7 595.8,575.7 L421.7,575.7 Q418.7,575.7 418.7,572.7 L418.7,549.3 Q418.7,546.3 421.7,546.3 Z" fill="#9e68e6" fill-opacity="0.96" stroke="rgba(255,255,255,0.62)" stroke-width="1.2" stroke-linejoin="round"/></svg>
<div id="tp" class="tx" style="transform:scaleX(1.0464);transform-origin:0 50%;left:431.50px;top:551.50px;font-size:13px;color:#0a0a0a;">DM76 Heart Rate 83 bpm</div>
</body></html>
